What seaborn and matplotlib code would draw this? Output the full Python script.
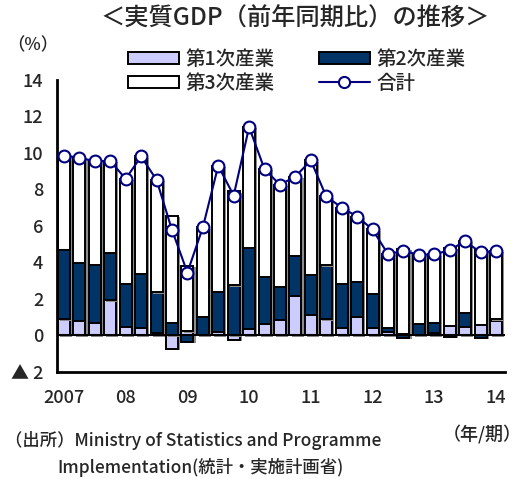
import numpy as np
import matplotlib
matplotlib.use('Agg')
import matplotlib.pyplot as plt
import matplotlib.patheffects as pe
from matplotlib.patches import Patch
from matplotlib.lines import Line2D
import seaborn as sns

# quarterly, 2007Q1 - 2014Q1
quarters = [f'{y}Q{q}' for y in range(2007, 2015) for q in range(1, 5)][:29]
year_labels = ['2007', '08', '09', '10', '11', '12', '13', '14']

primary = [0.88, 0.79, 0.68, 1.92, 0.47, 0.40, 0.15, -0.75, 0.22, 0.05,
           0.20, -0.22, 0.37, 0.64, 0.86, 2.15, 1.13, 0.88, 0.40, 1.00,
           0.42, 0.20, 0.10, 0.05, 0.15, 0.50, 0.48, 0.60, 0.82]
secondary = [3.80, 3.17, 3.19, 2.61, 2.34, 2.98, 2.21, 0.70, -0.36, 0.97,
             2.21, 2.74, 4.42, 2.56, 1.79, 2.23, 2.21, 2.96, 2.41, 1.92,
             1.86, 0.20, -0.12, 0.58, 0.55, -0.10, 0.75, -0.12, 0.06]
tertiary = [5.18, 5.78, 5.68, 5.04, 5.77, 6.43, 6.17, 5.84, 3.59, 4.90,
            6.89, 5.15, 6.63, 5.91, 5.61, 4.33, 6.25, 3.78, 4.20, 3.60,
            3.53, 4.06, 4.66, 3.79, 3.74, 4.28, 3.94, 4.07, 3.76]
total = [9.86, 9.74, 9.55, 9.57, 8.58, 9.81, 8.53, 5.79, 3.45, 5.92,
         9.30, 7.67, 11.42, 9.11, 8.26, 8.71, 9.59, 7.62, 7.01, 6.52,
         5.81, 4.46, 4.64, 4.42, 4.44, 4.68, 5.17, 4.55, 4.64]

names = ['第1次産業', '第2次産業', '第3次産業', '合計']
colors = ['#CCCCFF', '#003366', '#FFFFFF', '#000080']

sns.set_style('white')
plt.rcParams['font.family'] = ['Noto Sans CJK JP', 'DejaVu Sans']
plt.rcParams['font.weight'] = 'medium'

fig = plt.figure(figsize=(5.23, 4.79), dpi=100)
ax = fig.add_axes([0.109, 0.2234, 0.857, 0.6096])

shadow = [pe.SimplePatchShadow(offset=(1.6, -0.8), shadow_rgbFace='#8c8c8c', alpha=1), pe.Normal()]

# stacked bars, positives upward and negatives downward
pos_base = np.zeros(len(quarters))
neg_base = np.zeros(len(quarters))
for vals, c in zip([primary, secondary, tertiary], colors[:3]):
    v = np.array(vals)
    bottom = np.where(v >= 0, pos_base, neg_base)
    sns.barplot(x=quarters, y=v, bottom=bottom, color=c, saturation=1,
                edgecolor='black', linewidth=1.4, width=0.78, ax=ax)
    pos_base += np.clip(v, 0, None)
    neg_base += np.clip(v, None, 0)

for p in ax.patches:
    p.set_path_effects(shadow)

ax.axhline(0, color='black', lw=1.5, zorder=1.5)

sns.lineplot(x=np.arange(len(total)), y=total, color=colors[3], lw=1.5,
             marker='o', markersize=8.5, markerfacecolor='white',
             markeredgecolor=colors[3], markeredgewidth=1.5, ax=ax, zorder=5)

ax.set_xlim(-0.45, 28.6)
ax.set_ylim(-2, 14)
ax.set_xticks(range(0, 29, 4), labels=year_labels)
ax.set_xticks(np.arange(3.5, 28, 4), minor=True)
ax.tick_params(axis='x', which='major', length=0, pad=12, labelsize=13)
ax.tick_params(axis='x', which='minor', length=5, width=1.5, direction='in')
ax.set_yticks(range(-2, 15, 2), labels=['▲ 2'] + [str(v) for v in range(0, 15, 2)])
ax.tick_params(axis='y', length=5, width=1.5, direction='in', pad=10, labelsize=13)
ax.set_xlabel('')
ax.set_ylabel('')
for s in ['top', 'right']:
    ax.spines[s].set_visible(False)
for s in ['left', 'bottom']:
    ax.spines[s].set_linewidth(2)
    ax.spines[s].set_color('black')

handles = [Patch(facecolor=colors[0], edgecolor='black', lw=1.4),
           Patch(facecolor=colors[2], edgecolor='black', lw=1.4),
           Patch(facecolor=colors[1], edgecolor='black', lw=1.4),
           Line2D([], [], color=colors[3], lw=1.5, marker='o', markersize=8,
                  markerfacecolor='white', markeredgecolor=colors[3], markeredgewidth=1.5)]
fig.legend(handles, [names[0], names[2], names[1], names[3]], ncol=2,
           loc='upper left', bbox_to_anchor=(128 / 523, 1 - 50 / 479),
           frameon=False, fontsize=14, handlelength=2.6, handleheight=0.55,
           handletextpad=0.35, columnspacing=2.3, labelspacing=0.25,
           borderpad=0, borderaxespad=0)

fig.text(295 / 523, 1 - 19 / 479, '＜実質GDP（前年同期比）の推移＞', ha='center', va='center', fontsize=17.5)
fig.text(33 / 523, 1 - 45 / 479, '（%）', ha='center', va='center', fontsize=12.5)
fig.text(522 / 523, 1 - 435 / 479, '（年/期）', ha='right', va='center', fontsize=13)
fig.text(5 / 523, 1 - 440 / 479, '（出所）Ministry of Statistics and Programme', ha='left', va='center', fontsize=12.5)
fig.text(201 / 523, 1 - 467 / 479, 'Implementation(統計・実施計画省)', ha='center', va='center', fontsize=12.5)

fig.savefig('out.png', dpi=100)
